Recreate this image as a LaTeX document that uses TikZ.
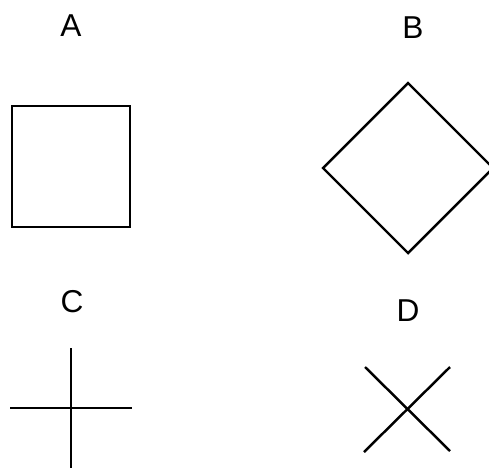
\documentclass[tikz,border=0pt]{standalone}
\usepackage{fontspec}
\setmainfont{Liberation Sans}
\usepackage{tikz}
\usetikzlibrary{positioning}

\begin{document}
\begin{tikzpicture}[x=0.02cm, y=-0.02cm]
    \tikzstyle{letter} = [font=\fontsize{18}{21}\selectfont, inner sep=0pt]
    \tikzstyle{outline} = [line width=1.4pt, line join=miter]

    \clip (0,0) rectangle (489,471);
    \useasboundingbox (0,0) rectangle (489,471);

    % labels
    \node [letter] (labA) at (71,26) {A};
    \node [letter] (labB) at (413,28) {B};
    \node [letter] (labC) at (72,302) {C};
    \node [letter] (labD) at (408,311) {D};

    % A: square
    \draw [outline] (12,106) rectangle (130,227);
    % B: diamond
    \draw [outline] (408,83) -- (493,168) -- (408,253) -- (323,168) -- cycle;
    % C: plus
    \coordinate (cmid) at (71,408);
    \draw [outline] (10,408) -- (132,408);
    \draw [outline] (71,348) -- (71,468);
    % D: cross
    \coordinate (dmid) at (407,409);
    \draw [outline] (365,367) -- (450,451);
    \draw [outline] (450,367) -- (364,452);
\end{tikzpicture}
\end{document}
